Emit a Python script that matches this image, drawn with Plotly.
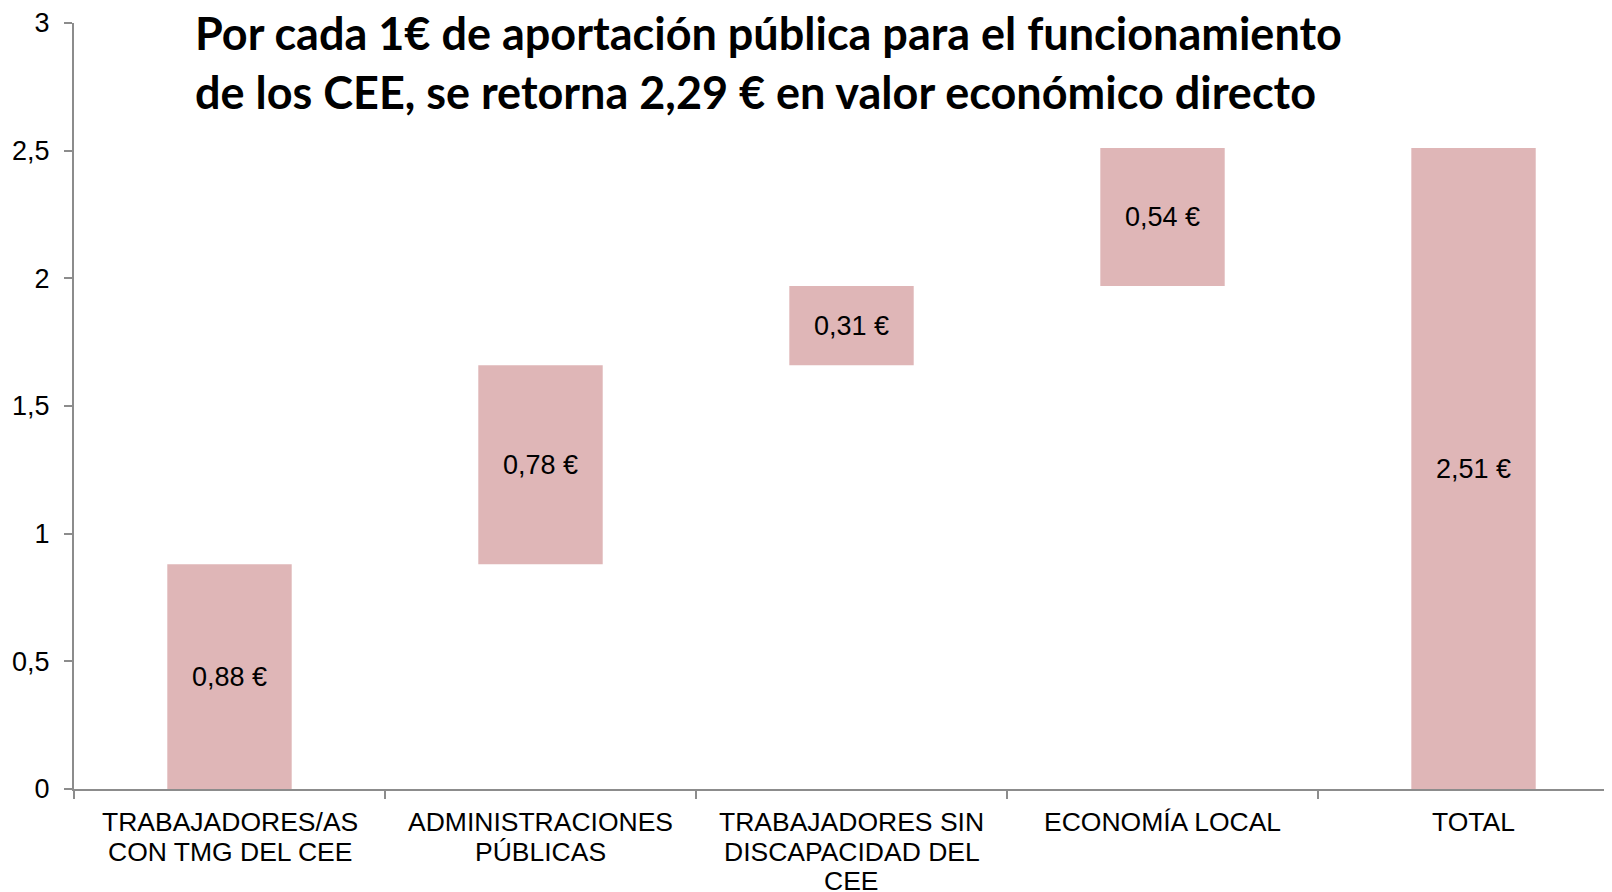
import plotly.graph_objects as go

categories = ["TRABAJADORES/AS<br>CON TMG DEL CEE", "ADMINISTRACIONES<br>PÚBLICAS",
              "TRABAJADORES SIN<br>DISCAPACIDAD DEL<br>CEE", "ECONOMÍA LOCAL", "TOTAL"]
values = [0.88, 0.78, 0.31, 0.54, 2.51]
measures = ["relative", "relative", "relative", "relative", "total"]
labels = ["0,88 €", "0,78 €", "0,31 €", "0,54 €", "2,51 €"]
title_lines = ["Por cada 1€ de aportación pública para el funcionamiento",
               "de los CEE, se retorna 2,29 € en valor económico directo"]

bar_color = "#DFB6B7"
axis_color = "#8C8C8C"
FONT = "Liberation Sans, Arial"

PLOT_H = 766

fig = go.Figure(go.Waterfall(
    x=list(range(len(categories))),
    y=[v if m == "relative" else 0 for v, m in zip(values, measures)],
    measure=measures,
    text=labels, textposition="inside", insidetextanchor="middle",
    textfont=dict(family=FONT, size=27, color="#000000"),
    increasing=dict(marker=dict(color=bar_color)),
    decreasing=dict(marker=dict(color=bar_color)),
    totals=dict(marker=dict(color=bar_color)),
    connector=dict(visible=False),
    width=0.4,
    hovertext=[c.replace("<br>", " ") for c in categories],
    hoverinfo="text",
))

fig.update_layout(
    width=1612, height=892,
    margin=dict(l=66, r=0, t=15, b=111),
    paper_bgcolor="white", plot_bgcolor="white",
    showlegend=False,
    separators=", ",
    font=dict(family=FONT, size=26, color="#000000"),
    xaxis=dict(range=[-0.5, 4.471], tickmode="array", tickvals=[0.5, 1.5, 2.5, 3.5, -0.5],
               showticklabels=False, showline=True, linecolor=axis_color, linewidth=2,
               ticks="outside", ticklen=8, tickcolor=axis_color,
               tickwidth=1.5, showgrid=False, zeroline=False),
    yaxis=dict(range=[0, 3], tickvals=[0, 0.5, 1, 1.5, 2, 2.5, 3], showline=True,
               linecolor=axis_color, linewidth=2, ticks="outside", ticklen=8,
               tickcolor=axis_color, tickwidth=1.5, showgrid=False, zeroline=False,
               ticklabeloverflow="allow",
               tickfont=dict(family=FONT, size=27, color="#000000"), ticklabelstandoff=9),
)

# category labels, line by line for tight spacing
for i, cat in enumerate(categories):
    for j, line in enumerate(cat.split("<br>")):
        fig.add_annotation(text=line, xref="x", yref="paper", x=i,
                           y=-(33 + j * 29.6) / PLOT_H, yanchor="middle", xanchor="center",
                           showarrow=False,
                           font=dict(family=FONT, size=26.5, color="#000000"))

for i, line in enumerate(title_lines):
    fig.add_annotation(text="<b>" + line + "</b>", xref="paper", yref="paper",
                       x=120 / 1546, xanchor="left",
                       y=1 + (18 - i * 59) / PLOT_H, yanchor="top", showarrow=False,
                       borderpad=0,
                       font=dict(family="Lato, Open Sans, sans-serif", size=45, color="#000000"))

fig.write_html("out.html")
